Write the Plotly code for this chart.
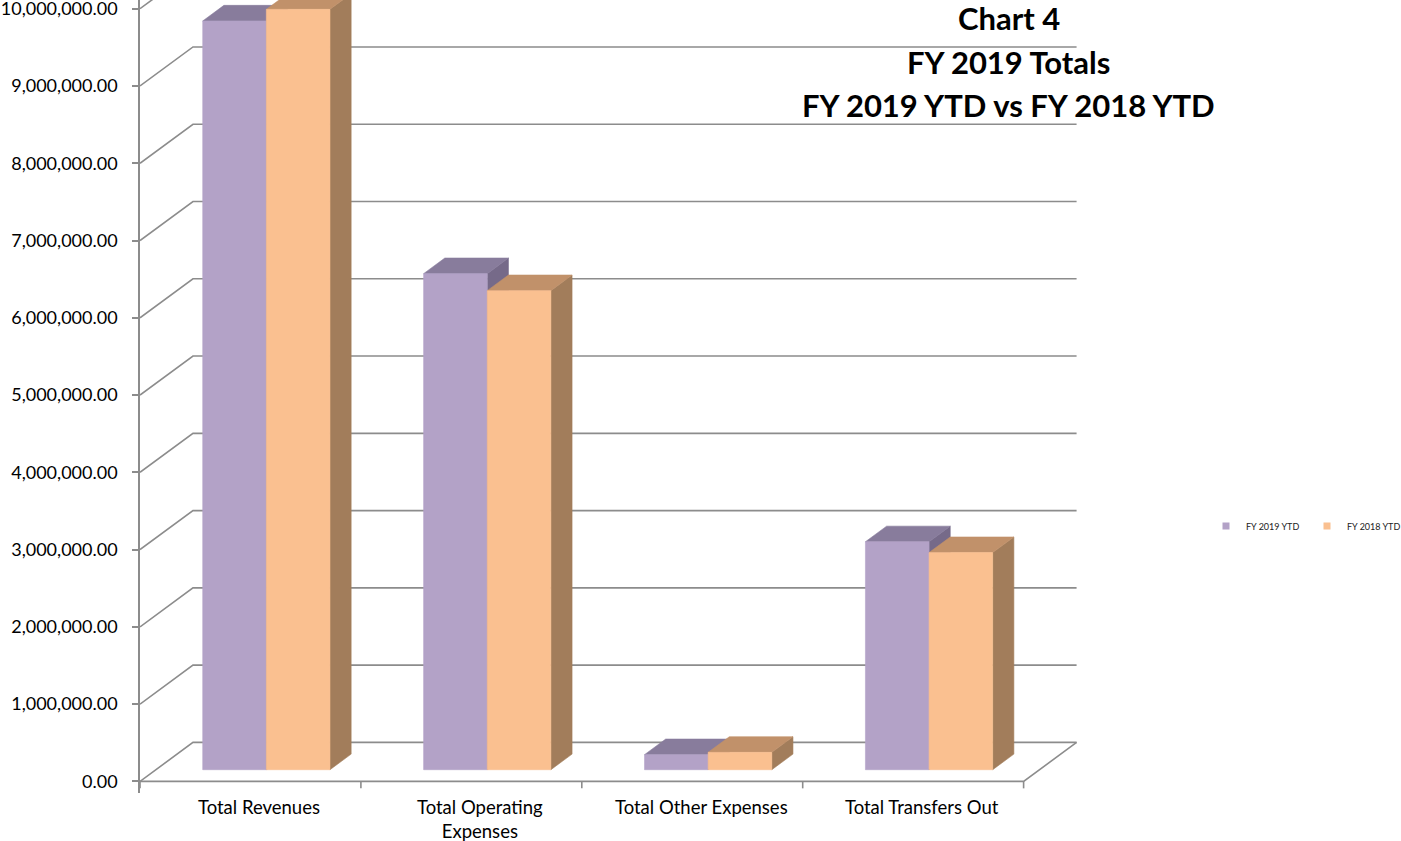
import plotly.graph_objects as go

# ---------------- data ----------------
categories = ["Total Revenues", "Total Operating<br>Expenses", "Total Other Expenses", "Total Transfers Out"]
fy2019_ytd = [9_690_000, 6_420_000, 195_000, 2_950_000]
fy2018_ytd = [9_840_000, 6_200_000, 225_000, 2_810_000]
series_names = ["FY 2019 YTD", "FY 2018 YTD"]
y_ticks = list(range(0, 10_000_001, 1_000_000))
title_lines = ["Chart 4", "FY 2019 Totals", "FY 2019 YTD vs FY 2018 YTD"]

# ---------------- styling / geometry ----------------
FONT = "Lato"
GRID = "#8C8C8C"
PX_PER_CAT = 221.0
PX_PER_VAL = 77.3 / 1e6
DX = 53 / PX_PER_CAT            # depth offset in category units
DY = 39 / PX_PER_VAL            # depth offset in value units
BAR_W = 0.288
T0, T1 = 0.3, 0.7               # bar depth span (fraction of floor depth)
colors = {
    0: dict(front="#B3A2C7", top="#887C9C", side="#766A89"),
    1: dict(front="#FAC090", top="#C1916A", side="#A27D5B"),
}

X_MIN, X_MAX = -0.5, 3.5 + DX + 0.02
Y_MIN = -0.15e6
PLOT_L = 140
ZERO_PX = 781.7
Y_MAX = ZERO_PX / PX_PER_VAL
plot_w = (X_MAX - X_MIN) * PX_PER_CAT
plot_h = ZERO_PX + (-Y_MIN) * PX_PER_VAL
W, H = 1401, 841

fig = go.Figure()

# ---- back wall gridlines + left wall diagonals ----
gx, gy = [], []
for v in y_ticks:
    gx += [X_MIN, X_MIN + DX, 3.5 + DX, None]
    gy += [v, v + DY, v + DY, None]
# floor right diagonal and front edge
gx += [X_MIN, 3.5, 3.5 + DX, None]
gy += [0, 0, DY, None]
# category boundary tick marks on the front edge
for b in range(len(categories) + 1):
    gx += [b - 0.5, b - 0.5, None]
    gy += [0, -0.09e6, None]
fig.add_trace(go.Scatter(x=gx, y=gy, mode="lines", line=dict(color=GRID, width=1.6),
                         hoverinfo="skip", showlegend=False))

# ---- 3D bars ----
shift = T0 * DX
base = T0 * DY
ddx = (T1 - T0) * DX
ddy = (T1 - T0) * DY
for j, vals in enumerate([fy2019_ytd, fy2018_ytd]):
    faces = {"side": ([], []), "top": ([], []), "front": ([], [])}
    for i, v in enumerate(vals):
        x0 = i + shift + (j - 1) * BAR_W
        x1 = x0 + BAR_W
        h = base + v
        fx, fy = faces["front"]
        fx += [x0, x1, x1, x0, x0, None]
        fy += [base, base, h, h, base, None]
        tx, ty = faces["top"]
        tx += [x0, x1, x1 + ddx, x0 + ddx, x0, None]
        ty += [h, h, h + ddy, h + ddy, h, None]
        sx, sy = faces["side"]
        sx += [x1, x1 + ddx, x1 + ddx, x1, x1, None]
        sy += [base, base + ddy, h + ddy, h, base, None]
    for face in ["side", "top", "front"]:
        xs, ys = faces[face]
        c = colors[j][face]
        fig.add_trace(go.Scatter(x=xs, y=ys, mode="lines", fill="toself", fillcolor=c,
                                 line=dict(color=c, width=0.6), hoverinfo="skip",
                                 showlegend=False))

# ---- legend entries ----
for j, name in enumerate(series_names):
    fig.add_trace(go.Scatter(x=[None], y=[None], mode="markers", name=name,
                             marker=dict(symbol="square", size=7, color=colors[j]["front"])))

# ---- category labels ----
for i, cat in enumerate(categories):
    fig.add_annotation(text=cat, xref="x", yref="paper", x=i + 0.04, y=1 - 794 / plot_h,
                       xanchor="center", yanchor="top", showarrow=False,
                       font=dict(family=FONT, size=18.5, color="black"))

# ---- title ----
for line, ypx in zip(title_lines, [18, 62, 105]):
    fig.add_annotation(text=f"<b>{line}</b>", xref="paper", yref="paper",
                       x=(1009 - PLOT_L) / plot_w, y=1 - ypx / plot_h,
                       xanchor="center", yanchor="middle", showarrow=False,
                       font=dict(family=FONT, size=31, color="black"))

fig.update_layout(
    width=W, height=H,
    margin=dict(l=PLOT_L, r=W - PLOT_L - plot_w, t=0, b=H - plot_h, pad=0, autoexpand=False),
    paper_bgcolor="white", plot_bgcolor="white",
    font=dict(family=FONT, size=17, color="black"),
    xaxis=dict(range=[X_MIN, X_MAX], showticklabels=False, ticks="", showline=False,
               showgrid=False, zeroline=False, automargin=False),
    yaxis=dict(range=[Y_MIN, Y_MAX], tickmode="array", tickvals=y_ticks,
               tickformat=",.2f", ticks="outside", ticklen=6, tickcolor=GRID, tickwidth=1.6,
               showline=True, linecolor=GRID, linewidth=1.6, showgrid=False, zeroline=False,
               ticklabelstandoff=11, ticklabeloverflow="allow", automargin=False,
               tickfont=dict(family=FONT, size=18, color="black")),
    showlegend=True,
    legend=dict(orientation="h", xref="container", yref="container",
                x=1206 / W, y=1 - 526 / H, xanchor="left", yanchor="middle",
                font=dict(family=FONT, size=9, color="#222222"), itemwidth=30,
                entrywidth=56, entrywidthmode="pixels",
                tracegroupgap=0, bgcolor="rgba(0,0,0,0)"),
)

fig.write_html("out.html", config={"displayModeBar": False},
               post_script="document.body.style.margin='0';")
